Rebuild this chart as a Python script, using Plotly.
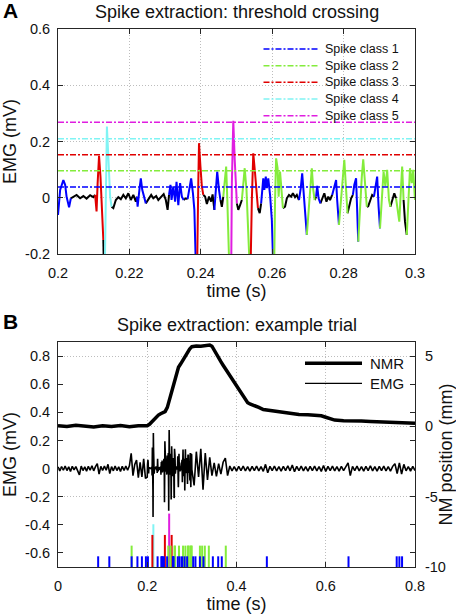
import numpy as np
import plotly.graph_objects as go

# ------------------------------------------------------------------ data
class_names = ["Spike class 1", "Spike class 2", "Spike class 3", "Spike class 4", "Spike class 5"]
thresholds = [0.038, 0.096, 0.153, 0.210, 0.268]          # mV

# Panel A window (0.2-0.3 s) of the EMG trace; class 0 = unclassified (black)
win_t = [0.2000, 0.2006, 0.2015, 0.2020, 0.2024, 0.2031, 0.2036, 0.2043, 0.2052, 0.2062,
         0.2071, 0.2080, 0.2090, 0.2099, 0.2104, 0.2108, 0.2111, 0.2115, 0.2119, 0.2122,
         0.2127, 0.2130, 0.2134, 0.2137, 0.2141, 0.2146, 0.2150, 0.2155, 0.2162, 0.2169,
         0.2176, 0.2183, 0.2190, 0.2197, 0.2204, 0.2211, 0.2218, 0.2221, 0.2223, 0.2228,
         0.2232, 0.2236, 0.2242, 0.2246, 0.2253, 0.2261, 0.2267, 0.2275, 0.2281, 0.2289,
         0.2296, 0.2302, 0.2307, 0.2311, 0.2315, 0.2318, 0.2323, 0.2328, 0.2332, 0.2337,
         0.2342, 0.2347, 0.2352, 0.2358, 0.2363, 0.2368, 0.2373, 0.2378, 0.2382, 0.2386,
         0.2390, 0.2393, 0.2395, 0.2399, 0.2403, 0.2407, 0.2412, 0.2417, 0.2423, 0.2429,
         0.2433, 0.2438, 0.2442, 0.2446, 0.2451, 0.2455, 0.2459, 0.2463, 0.2466, 0.2471,
         0.2474, 0.2478, 0.2481, 0.2485, 0.2487, 0.2491, 0.2495, 0.2499, 0.2501, 0.2505,
         0.2510, 0.2515, 0.2518, 0.2523, 0.2528, 0.2532, 0.2536, 0.2540, 0.2543, 0.2547,
         0.2552, 0.2557, 0.2560, 0.2565, 0.2569, 0.2572, 0.2575, 0.2578, 0.2582, 0.2585,
         0.2589, 0.2594, 0.2599, 0.2602, 0.2606, 0.2608, 0.2611, 0.2615, 0.2618, 0.2622,
         0.2626, 0.2630, 0.2636, 0.2641, 0.2647, 0.2653, 0.2658, 0.2664, 0.2669, 0.2675,
         0.2680, 0.2684, 0.2689, 0.2693, 0.2697, 0.2700, 0.2705, 0.2711, 0.2715, 0.2719,
         0.2723, 0.2726, 0.2730, 0.2735, 0.2740, 0.2746, 0.2752, 0.2757, 0.2762, 0.2768,
         0.2774, 0.2779, 0.2782, 0.2787, 0.2791, 0.2796, 0.2802, 0.2807, 0.2811, 0.2816,
         0.2821, 0.2826, 0.2830, 0.2835, 0.2839, 0.2841, 0.2845, 0.2851, 0.2855, 0.2860,
         0.2865, 0.2869, 0.2875, 0.2880, 0.2885, 0.2889, 0.2894, 0.2898, 0.2902, 0.2907,
         0.2912, 0.2917, 0.2922, 0.2927, 0.2931, 0.2936, 0.2942, 0.2947, 0.2952, 0.2956,
         0.2961, 0.2964, 0.2968, 0.2972, 0.2977, 0.2981, 0.2986, 0.2991, 0.2995, 0.3000]
win_v = [-0.061, 0.028, 0.063, 0.046, 0.004, -0.034, -0.002, 0.004, 0.010, -0.002,
         0.006, -0.003, 0.009, 0.002, 0.010, -0.049, 0.052, 0.149, 0.075, -0.032,
         -0.150, -0.345, 0.052, 0.253, 0.146, 0.004, -0.032, -0.037, -0.008, 0.002,
         -0.005, 0.010, -0.002, 0.016, -0.008, 0.010, -0.014, 0.004, -0.032, 0.028,
         0.069, 0.028, -0.008, -0.020, -0.008, 0.010, -0.002, 0.006, -0.008, 0.004,
         0.013, -0.008, -0.043, 0.010, 0.046, -0.008, 0.040, -0.014, 0.057, -0.026,
         0.052, 0.004, -0.008, -0.002, -0.005, 0.040, 0.069, 0.016, -0.043, -0.240,
         -0.220, 0.052, 0.194, 0.111, 0.040, 0.010, 0.004, -0.022, 0.004, -0.014,
         0.012, -0.043, 0.034, 0.093, 0.028, -0.008, -0.032, 0.004, 0.046, 0.111,
         0.004, -0.126, -0.300, -0.280, 0.052, 0.274, 0.135, 0.016, -0.020, -0.043,
         -0.026, -0.008, 0.040, 0.105, 0.028, -0.067, -0.220, -0.210, -0.008, 0.158,
         0.087, -0.008, -0.037, -0.055, -0.020, 0.028, 0.069, 0.028, 0.075, 0.034,
         0.069, 0.010, -0.079, -0.210, -0.200, -0.008, 0.140, 0.105, 0.004, 0.093,
         0.028, -0.037, -0.032, -0.002, 0.010, 0.004, 0.016, 0.002, 0.010, -0.008,
         0.034, 0.087, -0.008, -0.091, -0.132, -0.091, 0.004, 0.105, 0.028, -0.008,
         0.004, 0.042, -0.002, -0.020, -0.002, 0.016, -0.014, 0.004, -0.008, 0.010,
         0.040, 0.063, -0.008, -0.097, -0.032, 0.052, 0.135, 0.028, -0.055, -0.032,
         -0.002, 0.010, 0.046, 0.069, -0.067, -0.156, -0.055, 0.075, 0.137, 0.040,
         -0.032, -0.030, -0.008, 0.010, 0.004, 0.040, 0.075, -0.032, -0.109, -0.008,
         0.093, 0.040, 0.099, -0.008, -0.032, -0.008, 0.016, -0.002, -0.043, -0.085,
         0.040, 0.111, -0.008, -0.085, -0.132, -0.008, 0.105, 0.052, 0.099, -0.008]
win_cls = [1, 1, 1, 1, 1, 1, 1, 0, 0, 0,
           0, 0, 0, 0, 0, 3, 3, 3, 3, 3,
           3, 0, 4, 4, 4, 4, 4, 0, 0, 0,
           0, 0, 0, 0, 0, 0, 0, 0, 1, 1,
           1, 1, 1, 1, 0, 0, 0, 0, 0, 0,
           0, 0, 0, 0, 1, 1, 1, 1, 1, 1,
           1, 1, 1, 0, 0, 1, 1, 1, 1, 1,
           3, 3, 3, 3, 3, 3, 0, 0, 0, 0,
           0, 0, 1, 1, 1, 1, 0, 0, 2, 2,
           2, 2, 2, 5, 5, 5, 5, 5, 5, 0,
           0, 0, 2, 2, 2, 2, 2, 3, 3, 3,
           3, 3, 3, 0, 0, 1, 1, 1, 1, 1,
           1, 1, 1, 1, 2, 2, 2, 2, 2, 2,
           2, 2, 0, 0, 0, 0, 0, 0, 0, 0,
           1, 1, 1, 1, 1, 2, 2, 2, 2, 2,
           0, 1, 1, 1, 0, 0, 0, 0, 0, 0,
           1, 1, 1, 1, 2, 2, 2, 2, 2, 0,
           0, 0, 1, 1, 1, 1, 2, 2, 2, 2,
           2, 0, 0, 0, 0, 1, 1, 1, 1, 2,
           2, 2, 2, 2, 2, 0, 0, 0, 2, 2,
           2, 2, 2, 0, 0, 2, 2, 2, 2, 2]

# Rest of the trial EMG (mV), sampled every 4 ms before the window and every 5 ms after it
emg_pre_v = [0.012, -0.016, 0.014, -0.012, 0.018, -0.014, 0.012, -0.020, 0.016, -0.010,
             0.014, -0.016, -0.045, 0.018, -0.014, 0.012, -0.018, 0.016, -0.012, 0.020,
             -0.016, 0.014, 0.035, -0.040, 0.016, -0.014, 0.018, -0.012, 0.030, -0.035,
             0.014, -0.016, 0.018, -0.014, 0.012, -0.020, 0.016, -0.014, 0.018, -0.012,
             0.020, 0.108, -0.050, 0.030, 0.060, -0.065, 0.045, -0.060, 0.070, -0.070]
emg_post_v = [-0.120, 0.120, -0.060, 0.140, -0.150, 0.110, -0.080, 0.080, -0.050, 0.040,
              -0.055, 0.035, -0.040, 0.045, 0.075, -0.050, 0.018, -0.016, 0.014, -0.018,
              0.016, -0.014, 0.018, -0.016, 0.014, -0.018, 0.016, -0.014, 0.018, -0.016,
              0.014, -0.020, 0.030, -0.030, 0.016, -0.014, 0.018, -0.016, 0.014, -0.018,
              0.016, -0.014, 0.020, -0.016, 0.025, -0.022, 0.016, -0.014, 0.018, -0.016,
              0.014, -0.018, 0.016, -0.014, 0.018, -0.016, 0.014, -0.020, 0.022, -0.020,
              0.016, -0.014, 0.018, -0.016, 0.014, -0.018, 0.016, -0.014, 0.018, 0.040,
              -0.050, 0.016, -0.014, 0.018, -0.016, 0.014, -0.018, 0.016, -0.014, 0.020,
              -0.016, 0.014, -0.018, 0.016, -0.014, 0.018, -0.016, 0.014, -0.018, 0.016,
              0.035, -0.035, 0.040, -0.040, 0.030, -0.016, 0.014, -0.018, 0.016, -0.014]

# Nictitating membrane response (mm)
nmr_t = [0.000, 0.020, 0.040, 0.060, 0.080, 0.100, 0.120, 0.140, 0.160, 0.180,
         0.200, 0.205, 0.210, 0.215, 0.220, 0.225, 0.230, 0.235, 0.240, 0.245,
         0.250, 0.255, 0.260, 0.265, 0.270, 0.275, 0.280, 0.285, 0.290, 0.295,
         0.300, 0.310, 0.320, 0.330, 0.340, 0.345, 0.350, 0.355, 0.360, 0.365,
         0.370, 0.375, 0.380, 0.385, 0.390, 0.395, 0.400, 0.405, 0.410, 0.415,
         0.420, 0.425, 0.430, 0.435, 0.440, 0.450, 0.460, 0.470, 0.480, 0.490,
         0.500, 0.520, 0.540, 0.560, 0.580, 0.590, 0.600, 0.610, 0.620, 0.640,
         0.660, 0.680, 0.700, 0.720, 0.740, 0.760, 0.780, 0.800]
nmr_v = [0.05, 0.00, 0.08, 0.02, -0.05, 0.05, 0.00, 0.06, -0.02, 0.04,
         0.05, 0.15, 0.33, 0.50, 0.65, 0.80, 0.90, 0.97, 1.05, 1.35,
         1.90, 2.55, 3.10, 3.70, 4.20, 4.45, 4.70, 5.00, 5.30, 5.50,
         5.67, 5.72, 5.70, 5.75, 5.78, 5.70, 5.40, 5.15, 4.90, 4.60,
         4.35, 4.10, 3.85, 3.60, 3.35, 3.10, 2.85, 2.60, 2.35, 2.10,
         1.85, 1.68, 1.60, 1.55, 1.50, 1.35, 1.20, 1.15, 1.10, 1.05,
         1.00, 0.90, 0.85, 0.82, 0.80, 0.75, 0.65, 0.55, 0.45, 0.40,
         0.42, 0.38, 0.35, 0.33, 0.32, 0.30, 0.28, 0.22]

# Spike times (s) per class for the whole trial
spike_times = {
    1: [0.090, 0.115, 0.165, 0.178, 0.188, 0.197, 0.2015, 0.2232, 0.2315, 0.2332,
        0.2342, 0.2373, 0.2446, 0.2575, 0.2582, 0.2589, 0.2684, 0.2726, 0.2779, 0.2835,
        0.2894, 0.303, 0.308, 0.318, 0.326, 0.347, 0.359, 0.367, 0.468, 0.651,
        0.759, 0.765, 0.771],
    2: [0.165, 0.2471, 0.2523, 0.2611, 0.2622, 0.2711, 0.2802, 0.2855, 0.2912, 0.2922,
        0.2964, 0.2986, 0.2995, 0.318, 0.323, 0.329, 0.338, 0.376],
    3: [0.2115, 0.2395, 0.2547],
    4: [0.2137],
    5: [0.2491],
}

a_xticks = [0.2, 0.22, 0.24, 0.26, 0.28, 0.3]
a_xticktext = ["0.2", "0.22", "0.24", "0.26", "0.28", "0.3"]
a_yticks = [-0.2, 0, 0.2, 0.4, 0.6]
a_yticktext = ["-0.2", "0", "0.2", "0.4", "0.6"]
b_xticks = [0, 0.2, 0.4, 0.6, 0.8]
b_xticktext = ["0", "0.2", "0.4", "0.6", "0.8"]
b_yticks = [-0.6, -0.4, -0.2, 0, 0.2, 0.4, 0.6, 0.8]
b_yticktext = ["-0.6", "-0.4", "-0.2", "0", "0.2", "0.4", "0.6", "0.8"]
b_y2ticks = [-10, -5, 0, 5]
b_y2ticktext = ["-10", "-5", "0", "5"]

# ------------------------------------------------------------------ style
FONT = "Liberation Sans, Arial, sans-serif"
COLORS = {0: "#000000", 1: "#0000FF", 2: "#84EC3C", 3: "#E00000", 4: "#80F4F4", 5: "#E01EE0"}
DASHDOT = "6px,2px,2px,2px"
RASTER_BASE = -0.7
RASTER_STEP = 0.076

fig = go.Figure()


def class_runs(t, v, c):
    runs = {k: ([], []) for k in range(6)}
    i, n = 1, len(t)
    while i < n:
        k = c[i]
        j = i
        while j + 1 < n and c[j + 1] == k:
            j += 1
        xs, ys = runs[k]
        xs.extend(list(t[i - 1:j + 1]) + [None])
        ys.extend(list(v[i - 1:j + 1]) + [None])
        i = j + 1
    return runs


# ---- Panel A
runs = class_runs(win_t, win_v, win_cls)
for k in [0, 1, 2, 3, 4, 5]:
    xs, ys = runs[k]
    fig.add_trace(go.Scatter(x=xs, y=ys, mode="lines", xaxis="x", yaxis="y",
                             line=dict(color=COLORS[k], width=2), showlegend=False,
                             hoverinfo="skip"))
for k, thr in enumerate(thresholds, start=1):
    fig.add_trace(go.Scatter(x=[a_xticks[0], a_xticks[-1]], y=[thr, thr], mode="lines",
                             xaxis="x", yaxis="y", name=class_names[k - 1],
                             line=dict(color=COLORS[k], width=1.5, dash=DASHDOT),
                             showlegend=False))

# ---- Panel B
pre_t = np.round(np.arange(len(emg_pre_v)) * 0.004, 4)
post_t = np.round(0.305 + np.arange(len(emg_post_v)) * 0.005, 4)
emg_t = list(pre_t) + list(win_t) + list(post_t)
emg_v = list(emg_pre_v) + list(win_v) + list(emg_post_v)

fig.add_trace(go.Scatter(x=emg_t, y=emg_v, mode="lines", xaxis="x2", yaxis="y2",
                         name="EMG", line=dict(color="black", width=1.6), showlegend=False))
fig.add_trace(go.Scatter(x=nmr_t, y=nmr_v, mode="lines", xaxis="x2", yaxis="y3",
                         name="NMR", line=dict(color="black", width=3.5), showlegend=False))
for k in [5, 4, 3, 2, 1]:
    top = RASTER_BASE + RASTER_STEP * k
    xs, ys = [], []
    for s in spike_times[k]:
        xs += [s, s, None]
        ys += [RASTER_BASE, top, None]
    fig.add_trace(go.Scatter(x=xs, y=ys, mode="lines", xaxis="x2", yaxis="y2",
                             line=dict(color=COLORS[k], width=2), showlegend=False,
                             hoverinfo="skip"))

# ------------------------------------------------------------------ layout
axis_common = dict(showline=True, linecolor="#262626", linewidth=1, mirror="ticks",
                   ticks="inside", ticklen=5, tickcolor="#262626", zeroline=False,
                   automargin=False,
                   tickfont=dict(family=FONT, size=14.5, color="#111111"),
                   gridcolor="#bdbdbd", griddash="1px,2px", gridwidth=1)
title_font = dict(family=FONT, size=18, color="#111111")

A_DOM = [0.5818, 1.0]
B_DOM = [0.0, 0.4182]

fig.update_layout(
    width=456, height=614,
    margin=dict(l=58, r=41, t=29, b=47),
    paper_bgcolor="white", plot_bgcolor="white",
    showlegend=False,
    xaxis=dict(axis_common, domain=[0, 1], anchor="y", range=[0.2, 0.3],
               tickvals=a_xticks, ticktext=a_xticktext, showgrid=True,
               ticklabelstandoff=6,
               title=dict(text="time (s)", font=title_font, standoff=0)),
    yaxis=dict(axis_common, domain=A_DOM, anchor="x", range=[-0.2, 0.6],
               tickvals=a_yticks, ticktext=a_yticktext, showgrid=True,
               ticklabelstandoff=4,
               title=dict(text="EMG (mV)", font=title_font, standoff=12)),
    xaxis2=dict(axis_common, domain=[0, 1], anchor="y2", range=[0, 0.8],
                tickvals=b_xticks, ticktext=b_xticktext, showgrid=True,
                ticklabelstandoff=6,
                title=dict(text="time (s)", font=title_font, standoff=2)),
    yaxis2=dict(axis_common, domain=B_DOM, anchor="x2", range=[-0.7, 0.9],
                tickvals=b_yticks, ticktext=b_yticktext, showgrid=False,
                ticklabelstandoff=4,
                title=dict(text="EMG (mV)", font=title_font, standoff=12)),
    yaxis3=dict(axis_common, overlaying="y2", side="right", anchor="x2", range=[-10, 6],
                tickvals=b_y2ticks, ticktext=b_y2ticktext, showgrid=True, mirror=False,
                ticklabelstandoff=6,
                title=dict(text="NM position (mm)", font=title_font, standoff=6)),
)

# titles and panel letters
ann = []
ann.append(dict(text="Spike extraction: threshold crossing", x=0.5, y=(567 - 12) / 538,
                xref="paper", yref="paper", xanchor="center", yanchor="middle",
                showarrow=False, font=title_font))
ann.append(dict(text="Spike extraction: example trial", x=0.5, y=(567 - 324.5) / 538,
                xref="paper", yref="paper", xanchor="center", yanchor="middle",
                showarrow=False, font=title_font))
ann.append(dict(text="<b>A</b>", x=(1 - 58) / 357, y=(567 - 10) / 538, xref="paper",
                yref="paper", xanchor="left", yanchor="middle", showarrow=False,
                font=dict(family=FONT, size=21, color="black")))
ann.append(dict(text="<b>B</b>", x=(1 - 58) / 357, y=(567 - 321) / 538, xref="paper",
                yref="paper", xanchor="left", yanchor="middle", showarrow=False,
                font=dict(family=FONT, size=21, color="black")))

# legend of panel A (drawn manually to match the compact MATLAB spacing)
shapes = []
leg_a_y = [49, 65.7, 82.3, 99, 115.7]
for k, py in enumerate(leg_a_y, start=1):
    yp = (567 - py) / 538
    shapes.append(dict(type="line", xref="paper", yref="paper",
                       x0=(263.5 - 58) / 357, x1=(318 - 58) / 357, y0=yp, y1=yp,
                       line=dict(color=COLORS[k], width=1.5, dash=DASHDOT)))
    ann.append(dict(text=class_names[k - 1], x=(323 - 58) / 357, y=yp, xref="paper",
                    yref="paper", xanchor="left", yanchor="middle", showarrow=False,
                    font=dict(family=FONT, size=12.5, color="#111111")))

# legend of panel B
for name, py, w in [("NMR", 363.3, 3.5), ("EMG", 383.3, 1.2)]:
    yp = (567 - py) / 538
    shapes.append(dict(type="line", xref="paper", yref="paper",
                       x0=(305 - 58) / 357, x1=(362 - 58) / 357, y0=yp, y1=yp,
                       line=dict(color="black", width=w)))
    ann.append(dict(text=name, x=(367.5 - 58) / 357, y=yp, xref="paper", yref="paper",
                    xanchor="left", yanchor="middle", showarrow=False,
                    font=dict(family=FONT, size=15, color="#111111")))

fig.update_layout(annotations=ann, shapes=shapes)
fig.write_html("out.html", config={"displayModeBar": False},
               post_script="document.body.style.margin='0px';document.body.style.padding='0px';")
